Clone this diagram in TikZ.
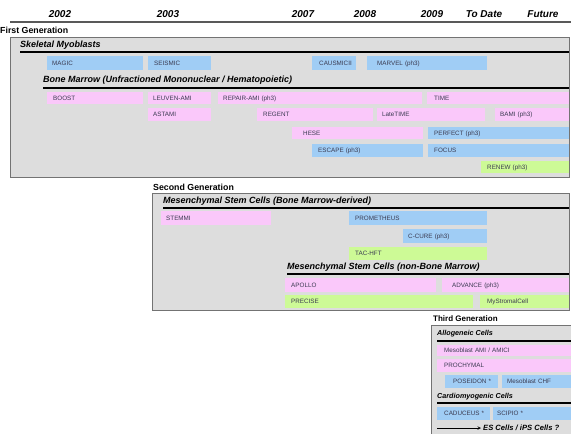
\documentclass[tikz,border=0pt]{standalone}
\usepackage{fontspec}
\setmainfont{Liberation Sans}
\definecolor{cblue}{HTML}{A0CDF5}
\definecolor{cpink}{HTML}{FAC8FA}
\definecolor{cgreen}{HTML}{CDFA96}
\definecolor{cgray}{HTML}{DDDDDD}
\definecolor{ctext}{HTML}{3A3A50}
\tikzset{
  bluebar/.style={fill=cblue},
  pinkbar/.style={fill=cpink},
  greenbar/.style={fill=cgreen},
  trialbox/.style={inner ysep=0pt, align=left, font=\fontsize{6.3}{7}\selectfont,
     text=ctext, text height=4.5pt, text depth=0.6pt},
  year/.style={font=\fontsize{10}{11}\selectfont\bfseries\itshape},
  genlabel/.style={anchor=west, inner sep=0pt, font=\fontsize{8.8}{10}\selectfont\bfseries},
  hdr/.style={anchor=west, inner sep=0pt, font=\fontsize{9}{10}\selectfont\bfseries\itshape},
  smallhdr/.style={anchor=west, inner sep=0pt, font=\fontsize{7.2}{8}\selectfont\bfseries\itshape},
  genbox/.style={fill=cgray, draw=black!55, line width=0.8pt},
  secline/.style={line width=1.8pt, black},
}
\newcommand\trial[8]{%
  \pgfmathsetmacro\trw{#4-#2-2*#7}%
  \pgfmathsetmacro\trh{#5-#3}%
  \node[trialbox, #6, anchor=north west, inner xsep=#7pt, text width=\trw pt,
        minimum height=\trh pt] (#1) at (#2,#3) {\mbox{#8}};}
\begin{document}
\begin{tikzpicture}[x=1pt, y=-1pt]
\useasboundingbox (0,0) rectangle (571,434);
\clip (0,0) rectangle (571,434);
\fill[white] (0,0) rectangle (571,434);
% years
\node[year] (y2002) at (60,14) {2002};
\node[year] (y2003) at (168,14) {2003};
\node[year] (y2007) at (303,14) {2007};
\node[year] (y2008) at (365,14) {2008};
\node[year] (y2009) at (432,14) {2009};
\node[year] (ytd) at (484,14) {To Date};
\node[year] (yfut) at (543,14) {Future};
\draw[line width=1.5pt, black!65] (10,22) -- (575,22);
% first generation
\node[genlabel] (g1) at (0,30) {First Generation};
\draw[genbox] (10,37) rectangle (569,177);
\node[hdr] (skel) at (20,45) {Skeletal Myoblasts};
\draw[secline] (20,52) -- (569,52);
\trial{magic}{47}{56}{143}{70}{bluebar}{5}{MAGIC}
\trial{seismic}{148}{56}{211}{70}{bluebar}{6}{SEISMIC}
\trial{causmic}{312}{56}{356}{70}{bluebar}{7}{CAUSMICII}
\trial{marvel}{367}{56}{487}{70}{bluebar}{10}{MARVEL (ph3)}
\node[hdr] (bm) at (43,80) {Bone Marrow (Unfractioned Mononuclear / Hematopoietic)};
\draw[secline] (43,88) -- (569,88);
\trial{boost}{47}{92}{143}{104}{pinkbar}{6}{BOOST}
\trial{leuven}{148}{92}{211}{104}{pinkbar}{5}{LEUVEN-AMI}
\trial{repair}{218}{92}{422}{104}{pinkbar}{5}{REPAIR-AMI (ph3)}
\trial{time}{427}{92}{569}{104}{pinkbar}{7}{TIME}
\trial{astami}{148}{108}{211}{121}{pinkbar}{5}{ASTAMI}
\trial{regent}{257}{108}{373}{121}{pinkbar}{6}{REGENT}
\trial{latetime}{377}{108}{485}{121}{pinkbar}{5}{LateTIME}
\trial{bami}{495}{108}{569}{121}{pinkbar}{5}{BAMI (ph3)}
\trial{hese}{292}{127}{423}{139}{pinkbar}{11}{HESE}
\trial{perfect}{428}{127}{569}{139}{bluebar}{6}{PERFECT (ph3)}
\trial{escape}{312}{144}{423}{157}{bluebar}{6}{ESCAPE (ph3)}
\trial{focus}{428}{144}{569}{157}{bluebar}{6}{FOCUS}
\trial{renew}{481}{161}{569}{173}{greenbar}{6}{RENEW (ph3)}
% second generation
\node[genlabel] (g2) at (153,187) {Second Generation};
\draw[genbox] (152,193) rectangle (569,310);
\node[hdr] (msc1) at (163,201) {Mesenchymal Stem Cells (Bone Marrow-derived)};
\draw[secline] (163,208) -- (569,208);
\trial{stemmi}{161}{211}{271}{225}{pinkbar}{5}{STEMMI}
\trial{prometheus}{349}{211}{487}{225}{bluebar}{6}{PROMETHEUS}
\trial{ccure}{403}{229}{487}{243}{bluebar}{5}{C-CURE (ph3)}
\trial{tachft}{349}{247}{487}{260}{greenbar}{6}{TAC-HFT}
\node[hdr] (msc2) at (287,267) {Mesenchymal Stem Cells (non-Bone Marrow)};
\draw[secline] (287,274) -- (569,274);
\trial{apollo}{285}{278}{436}{292}{pinkbar}{6}{APOLLO}
\trial{advance}{442}{278}{569}{292}{pinkbar}{10}{ADVANCE (ph3)}
\trial{precise}{285}{295}{473}{308}{greenbar}{6}{PRECISE}
\trial{mystromal}{480}{295}{569}{308}{greenbar}{7}{MyStromalCell}
% third generation
\node[genlabel, font=\fontsize{8}{9}\selectfont\bfseries] (g3) at (433,319) {Third Generation};
\draw[genbox] (431,325) rectangle (580,445);
\node[smallhdr] (allo) at (437,334) {Allogeneic Cells};
\draw[secline] (437,341) -- (575,341);
\trial{mesoami}{437}{345}{575}{356}{pinkbar}{7}{Mesoblast AMI / AMICI}
\trial{prochymal}{437}{359}{575}{372}{pinkbar}{7}{PROCHYMAL}
\trial{poseidon}{445}{375}{498}{388}{bluebar}{8}{POSEIDON *}
\trial{mesochf}{502}{375}{575}{388}{bluebar}{5}{Mesoblast CHF}
\node[smallhdr] (cardio) at (437,397) {Cardiomyogenic Cells};
\draw[secline] (437,403) -- (575,403);
\trial{caduceus}{437}{407}{490}{420}{bluebar}{7}{CADUCEUS *}
\trial{scipio}{493}{407}{575}{420}{bluebar}{4}{SCIPIO *}
\coordinate (arrstart) at (437,428);
\node[smallhdr, font=\fontsize{7.6}{8}\selectfont\bfseries\itshape] (es) at (483,428) {ES Cells / iPS Cells ?};
\draw[->, >=stealth, line width=0.6pt] (arrstart) -- ([xshift=-2pt]es.west);
\end{tikzpicture}
\end{document}
